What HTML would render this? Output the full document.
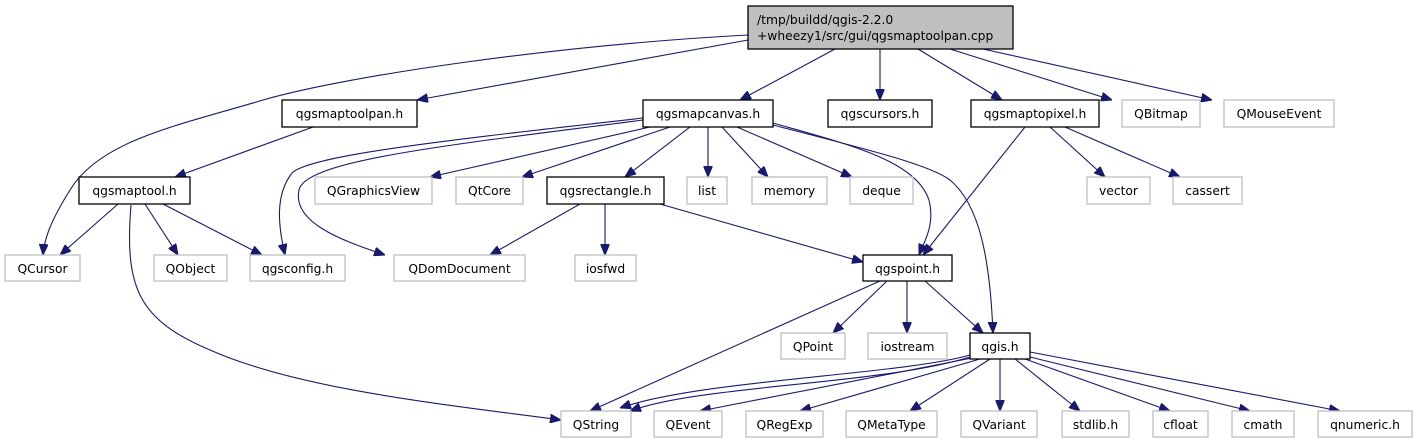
<!DOCTYPE html>
<html><head><meta charset="utf-8">
<style>
html,body{margin:0;padding:0;background:#fff;}
svg{display:block;}
text{font-family:"DejaVu Sans","Liberation Sans",sans-serif;font-size:12.3px;fill:#000;}
.b{fill:#fff;stroke:#000;stroke-width:1.3;}
.g{fill:#fff;stroke:#bfbfbf;stroke-width:1.3;}
.e{fill:none;stroke:#191970;stroke-width:1.1;}
</style></head><body>
<svg width="1417" height="443" viewBox="0 0 1417 443" xmlns="http://www.w3.org/2000/svg">
<defs>
<marker id="a" viewBox="0 0 11 9" refX="11" refY="4.5" markerWidth="11" markerHeight="9" markerUnits="userSpaceOnUse" orient="auto">
<path d="M0,0 L11,4.5 L0,9 z" fill="#191970" stroke="#191970"/>
</marker>
</defs>
<g class="e" marker-end="url(#a)">
<path d="M748,35 C560,45 350,75 263,100 C180,125 100,140 70,190 C50,222 44,240 43,255"/>
<path d="M748,40 L417,100"/>
<path d="M835,49 L740,100"/>
<path d="M880,49 L880,100"/>
<path d="M918,49 L1002,100"/>
<path d="M950,49 L1112,100"/>
<path d="M983,49 L1212,100"/>
<path d="M313,127 L175,177"/>
<path d="M643,118 C450,140 310,155 292,173 C275,195 278,225 285,255"/>
<path d="M643,120 C450,145 305,160 299,190 C292,222 340,240 385,255"/>
<path d="M650,127 L430,177"/>
<path d="M670,127 L522,177"/>
<path d="M690,127 L625,177"/>
<path d="M708,127 L708,177"/>
<path d="M722,127 L768,177"/>
<path d="M737,127 L852,177"/>
<path d="M773,123 C850,145 915,160 929,200 C935,225 925,240 919,255"/>
<path d="M773,125 C870,150 930,165 950,180 C980,205 990,260 993,333"/>
<path d="M580,204 L490,255"/>
<path d="M605,204 L605,255"/>
<path d="M660,204 L863,262"/>
<path d="M1025,127 L923,255"/>
<path d="M1050,127 L1105,177"/>
<path d="M1065,127 L1180,177"/>
<path d="M118,204 L60,255"/>
<path d="M145,204 L178,255"/>
<path d="M163,204 L262,255"/>
<path d="M131,205 C124,290 140,320 210,350 C300,390 450,405 561,420"/>
<path d="M880,281 L590,411"/>
<path d="M887,281 L833,333"/>
<path d="M907,281 L907,333"/>
<path d="M925,281 L983,333"/>
<path d="M970,355 C900,375 700,380 620,408"/>
<path d="M970,357 C880,385 700,385 630,411"/>
<path d="M972,358 L700,411"/>
<path d="M980,359 L800,411"/>
<path d="M990,359 L910,411"/>
<path d="M1000,359 L1000,411"/>
<path d="M1015,359 L1080,411"/>
<path d="M1025,359 L1170,411"/>
<path d="M1030,357 L1250,411"/>
<path d="M1030,352 L1340,411"/>
</g>
<rect x="748" y="6" width="265" height="43" fill="#bfbfbf" stroke="#000" stroke-width="1.3"/>
<text x="757" y="24">/tmp/buildd/qgis-2.2.0</text>
<text x="757" y="40">+wheezy1/src/gui/qgsmaptoolpan.cpp</text>

<rect class="b" x="282" y="100" width="135" height="27"/><text x="349.5" y="118" text-anchor="middle">qgsmaptoolpan.h</text>
<rect class="b" x="643" y="100" width="130" height="27"/><text x="708" y="118" text-anchor="middle">qgsmapcanvas.h</text>
<rect class="b" x="828" y="100" width="104" height="27"/><text x="880" y="118" text-anchor="middle">qgscursors.h</text>
<rect class="b" x="971" y="100" width="128" height="27"/><text x="1035" y="118" text-anchor="middle">qgsmaptopixel.h</text>
<rect class="g" x="1122" y="100" width="78" height="27"/><text x="1161" y="118" text-anchor="middle">QBitmap</text>
<rect class="g" x="1224" y="100" width="110" height="27"/><text x="1279" y="118" text-anchor="middle">QMouseEvent</text>

<rect class="b" x="79" y="177" width="111" height="27"/><text x="134.5" y="195" text-anchor="middle">qgsmaptool.h</text>
<rect class="g" x="315" y="177" width="117" height="27"/><text x="373.5" y="195" text-anchor="middle">QGraphicsView</text>
<rect class="g" x="456" y="177" width="67" height="27"/><text x="489.5" y="195" text-anchor="middle">QtCore</text>
<rect class="b" x="547" y="177" width="117" height="27"/><text x="605.5" y="195" text-anchor="middle">qgsrectangle.h</text>
<rect class="g" x="687" y="177" width="40" height="27"/><text x="707" y="195" text-anchor="middle">list</text>
<rect class="g" x="752" y="177" width="75" height="27"/><text x="789.5" y="195" text-anchor="middle">memory</text>
<rect class="g" x="850" y="177" width="63" height="27"/><text x="881.5" y="195" text-anchor="middle">deque</text>
<rect class="g" x="1087" y="177" width="63" height="27"/><text x="1118.5" y="195" text-anchor="middle">vector</text>
<rect class="g" x="1173" y="177" width="69" height="27"/><text x="1207.5" y="195" text-anchor="middle">cassert</text>

<rect class="g" x="5" y="255" width="75" height="26"/><text x="42.5" y="273" text-anchor="middle">QCursor</text>
<rect class="g" x="154" y="255" width="73" height="26"/><text x="190.5" y="273" text-anchor="middle">QObject</text>
<rect class="g" x="250" y="255" width="95" height="26"/><text x="297.5" y="273" text-anchor="middle">qgsconfig.h</text>
<rect class="g" x="394" y="255" width="131" height="26"/><text x="459.5" y="273" text-anchor="middle">QDomDocument</text>
<rect class="g" x="575" y="255" width="61" height="26"/><text x="605.5" y="273" text-anchor="middle">iosfwd</text>
<rect class="b" x="863" y="255" width="89" height="26"/><text x="907.5" y="273" text-anchor="middle">qgspoint.h</text>

<rect class="g" x="781" y="333" width="64" height="26"/><text x="813" y="351" text-anchor="middle">QPoint</text>
<rect class="g" x="868" y="333" width="79" height="26"/><text x="907.5" y="351" text-anchor="middle">iostream</text>
<rect class="b" x="970" y="333" width="60" height="26"/><text x="1000" y="351" text-anchor="middle">qgis.h</text>

<rect class="g" x="561" y="411" width="70" height="26"/><text x="596" y="429" text-anchor="middle">QString</text>
<rect class="g" x="654" y="411" width="68" height="26"/><text x="688" y="429" text-anchor="middle">QEvent</text>
<rect class="g" x="746" y="411" width="77" height="26"/><text x="784.5" y="429" text-anchor="middle">QRegExp</text>
<rect class="g" x="846" y="411" width="91" height="26"/><text x="891.5" y="429" text-anchor="middle">QMetaType</text>
<rect class="g" x="961" y="411" width="76" height="26"/><text x="999" y="429" text-anchor="middle">QVariant</text>
<rect class="g" x="1062" y="411" width="67" height="26"/><text x="1095.5" y="429" text-anchor="middle">stdlib.h</text>
<rect class="g" x="1153" y="411" width="55" height="26"/><text x="1180.5" y="429" text-anchor="middle">cfloat</text>
<rect class="g" x="1232" y="411" width="62" height="26"/><text x="1263" y="429" text-anchor="middle">cmath</text>
<rect class="g" x="1318" y="411" width="94" height="26"/><text x="1365" y="429" text-anchor="middle">qnumeric.h</text>
</svg>
</body></html>
